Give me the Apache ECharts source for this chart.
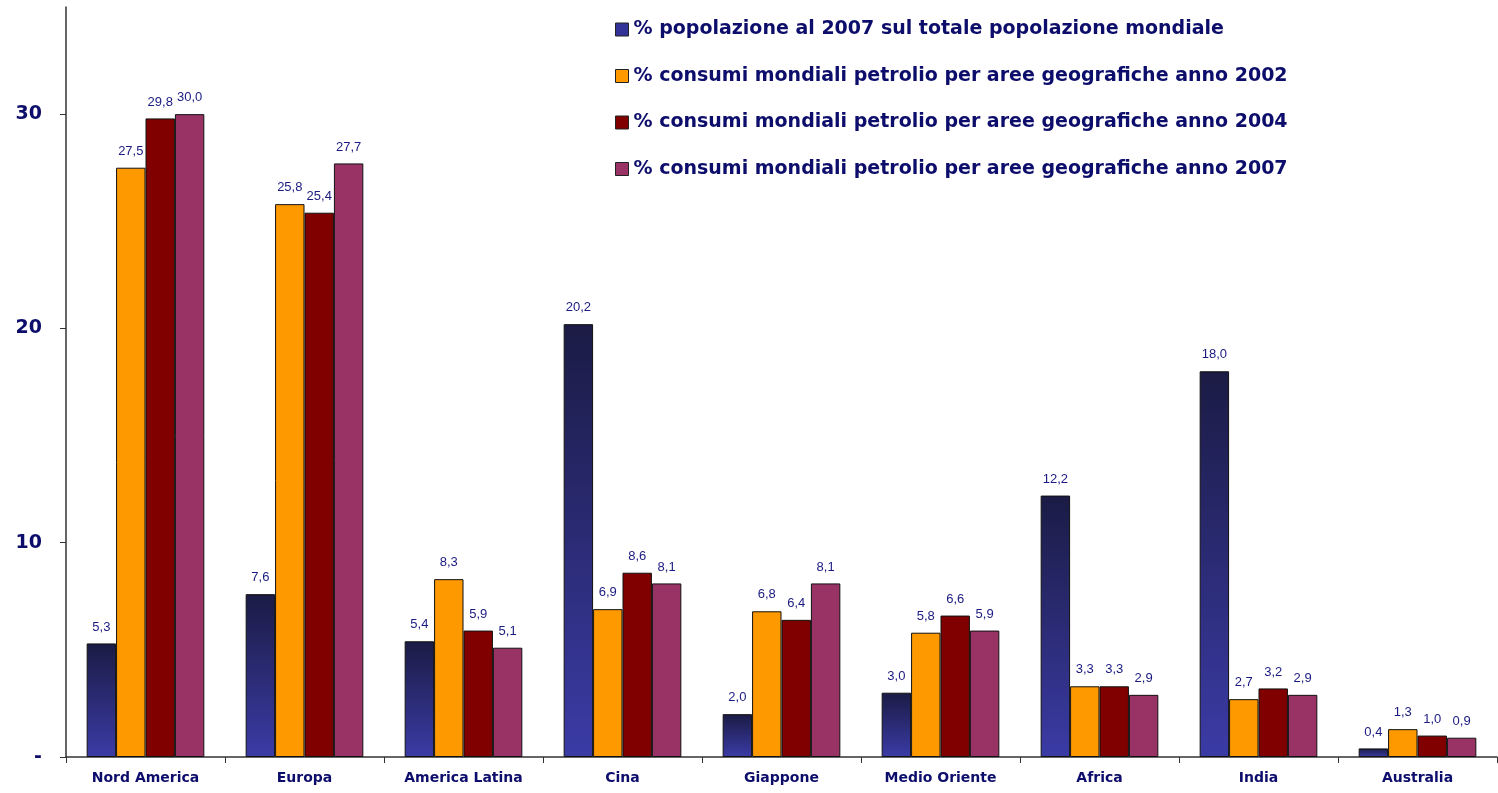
<!DOCTYPE html>
<html><head><meta charset="utf-8">
<script src="https://cdn.jsdelivr.net/npm/echarts@6/dist/echarts.min.js"></script>
<style>html,body{margin:0;padding:0;background:#fff}#c{width:1498px;height:793px}</style>
</head><body><div id="c"></div>
<script>
const categories = ['Nord America','Europa','America Latina','Cina','Giappone','Medio Oriente','Africa','India','Australia'];
const seriesNames = [
  '% popolazione al 2007 sul totale popolazione mondiale',
  '% consumi mondiali petrolio per aree geografiche anno 2002',
  '% consumi mondiali petrolio per aree geografiche anno 2004',
  '% consumi mondiali petrolio per aree geografiche anno 2007'
];
const popolazione2007 = [5.3, 7.6, 5.4, 20.2, 2.0, 3.0, 12.2, 18.0, 0.4];
const consumi2002 = [27.5, 25.8, 8.3, 6.9, 6.8, 5.8, 3.3, 2.7, 1.3];
const consumi2004 = [29.8, 25.4, 5.9, 8.6, 6.4, 6.6, 3.3, 3.2, 1.0];
const consumi2007 = [30.0, 27.7, 5.1, 8.1, 8.1, 5.9, 2.9, 2.9, 0.9];
const yTicks = [0, 10, 20, 30];

const navy = '#0d0d6b';
const blueGrad = new echarts.graphic.LinearGradient(0,0,0,1,[{offset:0,color:'#1b1b45'},{offset:1,color:'#3b3ba6'}]);
const colors = [blueGrad, '#ff9900', '#800000', '#993366'];
const legendColors = ['#333399', '#ff9900', '#800000', '#993366'];
const allData = [popolazione2007, consumi2002, consumi2004, consumi2007];

const chart = echarts.init(document.getElementById('c'), null, {renderer:'canvas'});
chart.setOption({
  animation:false,
  backgroundColor:'#fff',
  grid:{left:66, right:1, top:7, bottom:36, containLabel:false},
  legend:{
    left:610, top:15, orient:'vertical', itemGap:27.5, itemWidth:13, itemHeight:13,
    icon:'rect',
    data: seriesNames.map((n,i)=>({name:n, itemStyle:{color:legendColors[i], borderColor:'#222', borderWidth:1}})),
    textStyle:{fontFamily:'DejaVu Sans', fontWeight:'bold', fontSize:19, color:navy, padding:[0,0,0,0]}
  },
  xAxis:{
    type:'category', data:categories,
    axisLine:{lineStyle:{color:'#333', width:1.5}},
    axisTick:{show:true, length:6, lineStyle:{color:'#333'}},
    axisLabel:{fontFamily:'DejaVu Sans', fontWeight:'bold', fontSize:14, color:navy, margin:14}
  },
  yAxis:{
    type:'value', min:0, max:35, interval:10,
    splitLine:{show:false},
    axisLine:{show:true, lineStyle:{color:'#333', width:1.5}},
    axisTick:{show:true, length:6, lineStyle:{color:'#333'}, customValues:yTicks},
    axisLabel:{fontFamily:'DejaVu Sans', fontWeight:'bold', fontSize:19, color:navy, margin:24,
      customValues:yTicks,
      formatter:v=> v===0 ? '-' : (yTicks.indexOf(v)>=0 ? String(v) : '')}
  },
  series: seriesNames.map((n,i)=>({
    name:n, type:'bar', data:allData[i],
    barGap:'0%', barCategoryGap:'26%',
    itemStyle:{color:colors[i], borderColor:'#111', borderWidth:1},
    label:{show:true, position:'top', distance:10, fontFamily:'Liberation Sans', fontSize:13, color:'#1a1a80',
      formatter:p=>p.value.toFixed(1).replace('.',',')}
  }))
});
</script></body></html>
